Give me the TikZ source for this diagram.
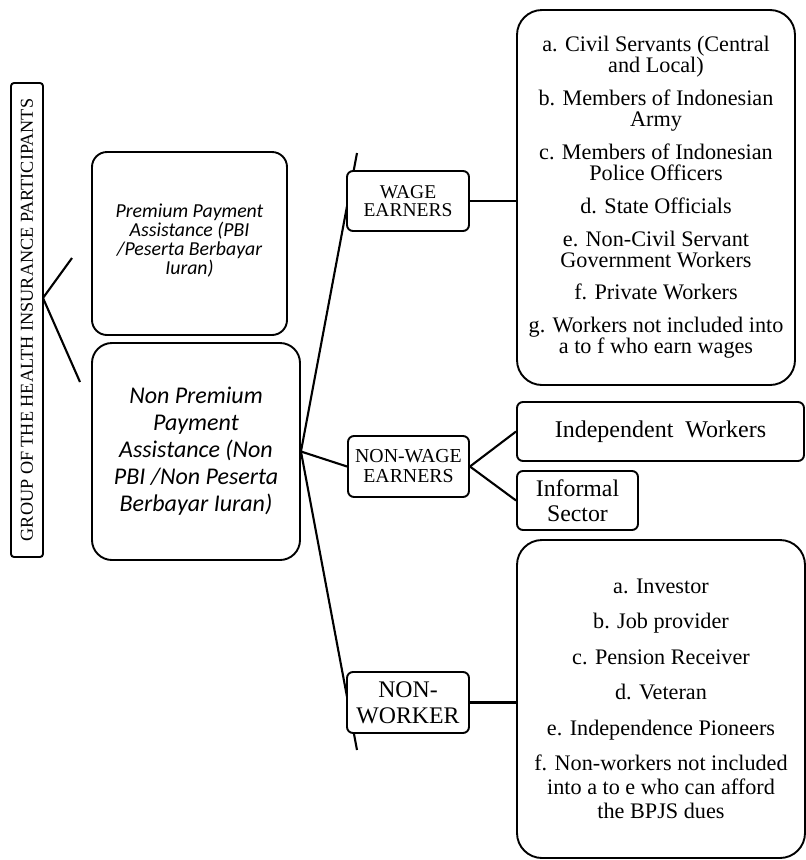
\documentclass[tikz,border=0pt]{standalone}
\usepackage{fontspec}
\setmainfont{Liberation Serif}
\newfontfamily\calfont{Carlito}
\begin{document}
\begin{tikzpicture}[x=1pt,y=-1pt,line width=1.9pt,
  box/.style={draw,fill=white,align=center,inner sep=0pt,line width=1.9pt,rounded corners=#1},
  box/.default=6pt,
  link/.style={line width=2.1pt}]
\useasboundingbox (0,0) rectangle (806,860);
\coordinate (apex) at (43,298);
\coordinate (bu) at (72,258);
\coordinate (bl) at (80,382);
\coordinate (fu) at (357,153);
\coordinate (fl) at (357,750);
\path
 node[box=3pt,rotate=90,minimum width=474pt,minimum height=32pt,font=\fontsize{18.2}{18}\selectfont] (grp) at (27,320) {GROUP OF THE HEALTH INSURANCE PARTICIPANTS}
 node[box=15pt,minimum width=195pt,minimum height=183pt,font=\calfont\itshape\fontsize{19.8}{19}\selectfont] (pbi) at (189.5,243.5) {Premium Payment\\Assistance (PBI\\/Peserta Berbayar\\Iuran)\\[-11pt]\mbox{}}
 node[box=20pt,minimum width=208pt,minimum height=217pt,font=\calfont\itshape\fontsize{24}{27}\selectfont] (npbi) at (196,451.5) {Non Premium\\Payment\\Assistance (Non\\PBI /Non Peserta\\Berbayar Iuran)};
\draw[link] (apex) -- (bu);
\draw[link] (apex) -- (bl);
\draw[link] (npbi.east) -- (fu);
\draw[link] (npbi.east) -- (fl);
\path
 node[box,minimum width=122pt,minimum height=60pt,font=\fontsize{19.5}{18.5}\selectfont] (wage) at (408,201) {WAGE\\EARNERS}
 node[box,minimum width=121pt,minimum height=61pt,font=\fontsize{19.8}{20}\selectfont] (nonwage) at (408.5,466.5) {NON-WAGE\\EARNERS}
 node[box,minimum width=122pt,minimum height=61pt,font=\fontsize{23.8}{26}\selectfont] (nonworker) at (408,702.5) {NON-\\WORKER}
 node[box=25pt,minimum width=278pt,minimum height=375pt,font=\fontsize{22.2}{21}\selectfont] (wagelist) at (656,197.5)
 {a. Civil Servants (Central\\and Local)\\[11.8pt]b. Members of Indonesian\\Army\\[11.8pt]c. Members of Indonesian\\Police Officers\\[11.8pt]d. State Officials\\[11.8pt]e. Non-Civil Servant\\Government Workers\\[11.8pt]f. Private Workers\\[11.8pt]g. Workers not included into\\a to f who earn wages}
 node[box,minimum width=287pt,minimum height=59pt,font=\fontsize{24}{25}\selectfont] (indep) at (660.5,431.5) {Independent\ \ Workers}
 node[box,minimum width=121pt,minimum height=59pt,font=\fontsize{23.8}{25}\selectfont] (informal) at (577.5,500.5) {Informal\\Sector}
 node[box=25pt,minimum width=288pt,minimum height=318pt,font=\fontsize{22.2}{24}\selectfont] (nwlist) at (661,699)
 {a. Investor\\[11.5pt]b. Job provider\\[11.5pt]c. Pension Receiver\\[11.5pt]d. Veteran\\[11.5pt]e. Independence Pioneers\\[11.5pt]f. Non-workers not included\\into a to e who can afford\\the BPJS dues};
\draw[link] (npbi.east) -- (nonwage.west);
\draw[link] (wage.east) -- (wagelist.west |- wage.east);
\draw[link] (nonwage.east) -- (indep.west);
\draw[link] (nonwage.east) -- (informal.west);
\draw[link] (nonworker.east) -- (nwlist.west |- nonworker.east);
\end{tikzpicture}
\end{document}
